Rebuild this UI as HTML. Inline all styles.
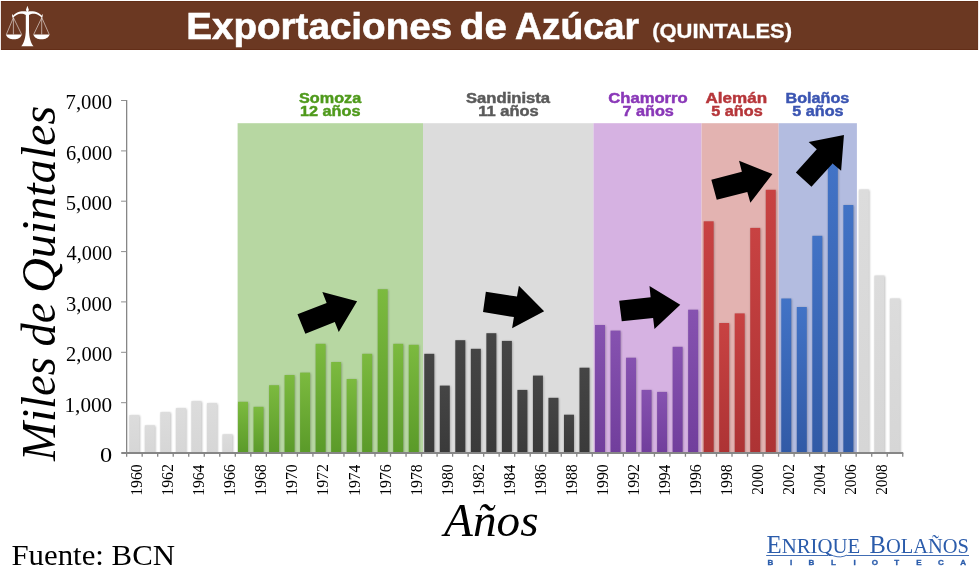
<!DOCTYPE html>
<html lang="es">
<head>
<meta charset="utf-8">
<title>Exportaciones de Azúcar (QUINTALES)</title>
<style>
html,body{margin:0;padding:0;background:#fff;}
body{width:980px;height:574px;overflow:hidden;position:relative;}
svg{position:absolute;left:0;top:0;display:block;}
.sans{font-family:"Liberation Sans","DejaVu Sans",sans-serif;font-weight:bold;}
.serif{font-family:"Liberation Serif","DejaVu Serif",serif;}
</style>
</head>
<body>
<svg width="980" height="574" viewBox="0 0 980 574">
<defs>
<linearGradient id="g-gr" x1="0" y1="0" x2="0" y2="1"><stop offset="0" stop-color="#7cba3f"/><stop offset="1" stop-color="#5a9a29"/></linearGradient>
<linearGradient id="g-dk" x1="0" y1="0" x2="0" y2="1"><stop offset="0" stop-color="#454545"/><stop offset="1" stop-color="#3a3a3a"/></linearGradient>
<linearGradient id="g-pu" x1="0" y1="0" x2="0" y2="1"><stop offset="0" stop-color="#8652b0"/><stop offset="1" stop-color="#713e9c"/></linearGradient>
<linearGradient id="g-rd" x1="0" y1="0" x2="0" y2="1"><stop offset="0" stop-color="#c84242"/><stop offset="1" stop-color="#ad3334"/></linearGradient>
<linearGradient id="g-bl" x1="0" y1="0" x2="0" y2="1"><stop offset="0" stop-color="#4273c6"/><stop offset="1" stop-color="#315aa6"/></linearGradient>
<linearGradient id="g-lg" x1="0" y1="0" x2="0" y2="1"><stop offset="0" stop-color="#dcdcdc"/><stop offset="1" stop-color="#d6d6d6"/></linearGradient>
<clipPath id="plot"><rect x="120" y="90" width="800" height="362.2"/></clipPath>
<filter id="sh" x="-30%" y="-5%" width="160%" height="110%"><feGaussianBlur stdDeviation="1.1"/></filter>
</defs>

<rect x="1.4" y="1.5" width="976.2" height="48" fill="#6b3822" stroke="#632e18" stroke-width="1"/>
<g fill="#fff" stroke="none">
<path d="M27.4 5.8 L28.9 9.9 L28 11.5 C31 11 35 11.2 38 12.8 C39.8 13.8 41 14.9 41.6 15.8 L42.3 13.8 C42.9 15.5 42.8 17 42 18 C40.5 16.3 38.5 14.8 36 14 C33.5 13.4 31 13.6 29 15 L29 30 C29.1 38 30.8 42.8 33.5 46.3 L21.3 46.3 C24 42.8 25.7 38 25.8 30 L25.8 15 C23.8 13.6 21.3 13.4 18.8 14 C16.3 14.8 14.3 16.3 12.8 18 C12 17 11.9 15.5 12.5 13.8 L13.2 15.8 C13.8 14.9 15 13.8 16.8 12.8 C19.8 11.2 23.8 11 26.8 11.5 L25.9 9.9 Z"/>
<path d="M5.9 34.4 L21.9 34.4 C21 37.6 17.9 39.2 13.9 39.2 C9.9 39.2 6.8 37.6 5.9 34.4 Z"/>
<path d="M33.3 34.4 L49.6 34.4 C48.7 37.6 45.5 39.2 41.45 39.2 C37.4 39.2 34.2 37.6 33.3 34.4 Z"/>
</g>
<g stroke="#fff" stroke-width="0.55" fill="none">
<path d="M13.4 17.6 L6.4 34.4 M13.4 17.6 L21.6 34.4 M13.4 17.6 L13.4 34.4"/>
<path d="M41.8 17.6 L33.7 34.4 M41.8 17.6 L49.2 34.4 M41.7 17.6 L41.7 34.4"/>
</g>

<text class="sans" x="186.21" y="38.6" font-size="37.4" fill="#fff" textLength="265.98" lengthAdjust="spacingAndGlyphs" stroke="#fff" stroke-width="0.6">Exportaciones</text>
<text class="sans" x="459.79" y="38.6" font-size="37.4" fill="#fff" textLength="47.08" lengthAdjust="spacingAndGlyphs" stroke="#fff" stroke-width="0.6">de</text>
<text class="sans" x="514.88" y="38.6" font-size="37.4" fill="#fff" textLength="124.18" lengthAdjust="spacingAndGlyphs" stroke="#fff" stroke-width="0.6">Azúcar</text>
<text class="sans" x="652.17" y="38.1" font-size="21.1" fill="#fff" textLength="139.84" lengthAdjust="spacingAndGlyphs" stroke="#fff" stroke-width="0.3">(QUINTALES)</text>
<rect x="237.6" y="123.2" width="185.4" height="329.8" fill="#b7d7a2"/>
<rect x="423.0" y="123.2" width="170.5" height="329.8" fill="#dcdcdc"/>
<rect x="593.5" y="123.2" width="108.1" height="329.8" fill="#d6b2e2"/>
<rect x="701.6" y="123.2" width="77.1" height="329.8" fill="#e3b3b1"/>
<rect x="778.7" y="123.2" width="78.2" height="329.8" fill="#b3bce0"/>
<g clip-path="url(#plot)"><g filter="url(#sh)" opacity="0.28" fill="#000" transform="translate(0.6 0.6)">
<rect x="129.35" y="415.1" width="10.0" height="41.9"/>
<rect x="144.87" y="425.3" width="10.0" height="31.7"/>
<rect x="160.39" y="412.1" width="10.0" height="44.9"/>
<rect x="175.92" y="408.1" width="10.0" height="48.9"/>
<rect x="191.44" y="401.1" width="10.0" height="55.9"/>
<rect x="206.96" y="403.1" width="10.0" height="53.9"/>
<rect x="222.48" y="434.3" width="10.0" height="22.7"/>
<rect x="238.00" y="401.8" width="10.0" height="55.2"/>
<rect x="253.53" y="406.8" width="10.0" height="50.2"/>
<rect x="269.05" y="385.2" width="10.0" height="71.8"/>
<rect x="284.57" y="375.0" width="10.0" height="82.0"/>
<rect x="300.09" y="372.6" width="10.0" height="84.4"/>
<rect x="315.61" y="343.8" width="10.0" height="113.2"/>
<rect x="331.14" y="362.0" width="10.0" height="95.0"/>
<rect x="346.66" y="379.0" width="10.0" height="78.0"/>
<rect x="362.18" y="353.8" width="10.0" height="103.2"/>
<rect x="377.70" y="289.2" width="10.0" height="167.8"/>
<rect x="393.22" y="343.8" width="10.0" height="113.2"/>
<rect x="408.75" y="344.8" width="10.0" height="112.2"/>
<rect x="424.27" y="353.8" width="10.0" height="103.2"/>
<rect x="439.79" y="385.6" width="10.0" height="71.4"/>
<rect x="455.31" y="340.2" width="10.0" height="116.8"/>
<rect x="470.83" y="348.8" width="10.0" height="108.2"/>
<rect x="486.36" y="333.2" width="10.0" height="123.8"/>
<rect x="501.88" y="340.9" width="10.0" height="116.1"/>
<rect x="517.40" y="389.9" width="10.0" height="67.1"/>
<rect x="532.92" y="375.6" width="10.0" height="81.4"/>
<rect x="548.44" y="397.8" width="10.0" height="59.2"/>
<rect x="563.97" y="414.7" width="10.0" height="42.3"/>
<rect x="579.49" y="367.7" width="10.0" height="89.3"/>
<rect x="595.01" y="325.0" width="10.0" height="132.0"/>
<rect x="610.53" y="330.6" width="10.0" height="126.4"/>
<rect x="626.05" y="357.7" width="10.0" height="99.3"/>
<rect x="641.58" y="389.9" width="10.0" height="67.1"/>
<rect x="657.10" y="391.9" width="10.0" height="65.1"/>
<rect x="672.62" y="346.8" width="10.0" height="110.2"/>
<rect x="688.14" y="309.7" width="10.0" height="147.3"/>
<rect x="703.66" y="221.3" width="10.0" height="235.7"/>
<rect x="719.19" y="323.0" width="10.0" height="134.0"/>
<rect x="734.71" y="313.4" width="10.0" height="143.6"/>
<rect x="750.23" y="227.9" width="10.0" height="229.1"/>
<rect x="765.75" y="189.8" width="10.0" height="267.2"/>
<rect x="781.27" y="298.5" width="10.0" height="158.5"/>
<rect x="796.80" y="307.0" width="10.0" height="150.0"/>
<rect x="812.32" y="235.8" width="10.0" height="221.2"/>
<rect x="827.84" y="164.0" width="10.0" height="293.0"/>
<rect x="843.36" y="205.0" width="10.0" height="252.0"/>
<rect x="858.88" y="189.5" width="10.0" height="267.5"/>
<rect x="874.41" y="275.6" width="10.0" height="181.4"/>
<rect x="889.93" y="298.5" width="10.0" height="158.5"/>
</g></g>
<rect x="129.35" y="415.1" width="10.0" height="37.9" fill="url(#g-lg)"/>
<rect x="144.87" y="425.3" width="10.0" height="27.7" fill="url(#g-lg)"/>
<rect x="160.39" y="412.1" width="10.0" height="40.9" fill="url(#g-lg)"/>
<rect x="175.92" y="408.1" width="10.0" height="44.9" fill="url(#g-lg)"/>
<rect x="191.44" y="401.1" width="10.0" height="51.9" fill="url(#g-lg)"/>
<rect x="206.96" y="403.1" width="10.0" height="49.9" fill="url(#g-lg)"/>
<rect x="222.48" y="434.3" width="10.0" height="18.7" fill="url(#g-lg)"/>
<rect x="238.00" y="401.8" width="10.0" height="51.2" fill="url(#g-gr)"/>
<rect x="253.53" y="406.8" width="10.0" height="46.2" fill="url(#g-gr)"/>
<rect x="269.05" y="385.2" width="10.0" height="67.8" fill="url(#g-gr)"/>
<rect x="284.57" y="375.0" width="10.0" height="78.0" fill="url(#g-gr)"/>
<rect x="300.09" y="372.6" width="10.0" height="80.4" fill="url(#g-gr)"/>
<rect x="315.61" y="343.8" width="10.0" height="109.2" fill="url(#g-gr)"/>
<rect x="331.14" y="362.0" width="10.0" height="91.0" fill="url(#g-gr)"/>
<rect x="346.66" y="379.0" width="10.0" height="74.0" fill="url(#g-gr)"/>
<rect x="362.18" y="353.8" width="10.0" height="99.2" fill="url(#g-gr)"/>
<rect x="377.70" y="289.2" width="10.0" height="163.8" fill="url(#g-gr)"/>
<rect x="393.22" y="343.8" width="10.0" height="109.2" fill="url(#g-gr)"/>
<rect x="408.75" y="344.8" width="10.0" height="108.2" fill="url(#g-gr)"/>
<rect x="424.27" y="353.8" width="10.0" height="99.2" fill="url(#g-dk)"/>
<rect x="439.79" y="385.6" width="10.0" height="67.4" fill="url(#g-dk)"/>
<rect x="455.31" y="340.2" width="10.0" height="112.8" fill="url(#g-dk)"/>
<rect x="470.83" y="348.8" width="10.0" height="104.2" fill="url(#g-dk)"/>
<rect x="486.36" y="333.2" width="10.0" height="119.8" fill="url(#g-dk)"/>
<rect x="501.88" y="340.9" width="10.0" height="112.1" fill="url(#g-dk)"/>
<rect x="517.40" y="389.9" width="10.0" height="63.1" fill="url(#g-dk)"/>
<rect x="532.92" y="375.6" width="10.0" height="77.4" fill="url(#g-dk)"/>
<rect x="548.44" y="397.8" width="10.0" height="55.2" fill="url(#g-dk)"/>
<rect x="563.97" y="414.7" width="10.0" height="38.3" fill="url(#g-dk)"/>
<rect x="579.49" y="367.7" width="10.0" height="85.3" fill="url(#g-dk)"/>
<rect x="595.01" y="325.0" width="10.0" height="128.0" fill="url(#g-pu)"/>
<rect x="610.53" y="330.6" width="10.0" height="122.4" fill="url(#g-pu)"/>
<rect x="626.05" y="357.7" width="10.0" height="95.3" fill="url(#g-pu)"/>
<rect x="641.58" y="389.9" width="10.0" height="63.1" fill="url(#g-pu)"/>
<rect x="657.10" y="391.9" width="10.0" height="61.1" fill="url(#g-pu)"/>
<rect x="672.62" y="346.8" width="10.0" height="106.2" fill="url(#g-pu)"/>
<rect x="688.14" y="309.7" width="10.0" height="143.3" fill="url(#g-pu)"/>
<rect x="703.66" y="221.3" width="10.0" height="231.7" fill="url(#g-rd)"/>
<rect x="719.19" y="323.0" width="10.0" height="130.0" fill="url(#g-rd)"/>
<rect x="734.71" y="313.4" width="10.0" height="139.6" fill="url(#g-rd)"/>
<rect x="750.23" y="227.9" width="10.0" height="225.1" fill="url(#g-rd)"/>
<rect x="765.75" y="189.8" width="10.0" height="263.2" fill="url(#g-rd)"/>
<rect x="781.27" y="298.5" width="10.0" height="154.5" fill="url(#g-bl)"/>
<rect x="796.80" y="307.0" width="10.0" height="146.0" fill="url(#g-bl)"/>
<rect x="812.32" y="235.8" width="10.0" height="217.2" fill="url(#g-bl)"/>
<rect x="827.84" y="164.0" width="10.0" height="289.0" fill="url(#g-bl)"/>
<rect x="843.36" y="205.0" width="10.0" height="248.0" fill="url(#g-bl)"/>
<rect x="858.88" y="189.5" width="10.0" height="263.5" fill="url(#g-lg)"/>
<rect x="874.41" y="275.6" width="10.0" height="177.4" fill="url(#g-lg)"/>
<rect x="889.93" y="298.5" width="10.0" height="154.5" fill="url(#g-lg)"/>
<g stroke="#868686" stroke-width="1.3" fill="none">
<path d="M126.65 100.0 L126.65 453.0"/>
<path d="M121.25 453.0 L903.25 453.0" stroke-width="1.9"/>
<path d="M121.05000000000001 100.5 L126.65 100.5 M121.05000000000001 150.9 L126.65 150.9 M121.05000000000001 201.2 L126.65 201.2 M121.05000000000001 251.6 L126.65 251.6 M121.05000000000001 301.9 L126.65 301.9 M121.05000000000001 352.3 L126.65 352.3 M121.05000000000001 402.7 L126.65 402.7" stroke-width="1" stroke="#8e8e8e"/>
<path d="M126.65 453.0 L126.65 456.7 M142.17 453.0 L142.17 456.7 M157.69 453.0 L157.69 456.7 M173.22 453.0 L173.22 456.7 M188.74 453.0 L188.74 456.7 M204.26 453.0 L204.26 456.7 M219.78 453.0 L219.78 456.7 M235.30 453.0 L235.30 456.7 M250.83 453.0 L250.83 456.7 M266.35 453.0 L266.35 456.7 M281.87 453.0 L281.87 456.7 M297.39 453.0 L297.39 456.7 M312.91 453.0 L312.91 456.7 M328.44 453.0 L328.44 456.7 M343.96 453.0 L343.96 456.7 M359.48 453.0 L359.48 456.7 M375.00 453.0 L375.00 456.7 M390.52 453.0 L390.52 456.7 M406.05 453.0 L406.05 456.7 M421.57 453.0 L421.57 456.7 M437.09 453.0 L437.09 456.7 M452.61 453.0 L452.61 456.7 M468.13 453.0 L468.13 456.7 M483.66 453.0 L483.66 456.7 M499.18 453.0 L499.18 456.7 M514.70 453.0 L514.70 456.7 M530.22 453.0 L530.22 456.7 M545.74 453.0 L545.74 456.7 M561.27 453.0 L561.27 456.7 M576.79 453.0 L576.79 456.7 M592.31 453.0 L592.31 456.7 M607.83 453.0 L607.83 456.7 M623.35 453.0 L623.35 456.7 M638.88 453.0 L638.88 456.7 M654.40 453.0 L654.40 456.7 M669.92 453.0 L669.92 456.7 M685.44 453.0 L685.44 456.7 M700.96 453.0 L700.96 456.7 M716.49 453.0 L716.49 456.7 M732.01 453.0 L732.01 456.7 M747.53 453.0 L747.53 456.7 M763.05 453.0 L763.05 456.7 M778.57 453.0 L778.57 456.7 M794.10 453.0 L794.10 456.7 M809.62 453.0 L809.62 456.7 M825.14 453.0 L825.14 456.7 M840.66 453.0 L840.66 456.7 M856.18 453.0 L856.18 456.7 M871.71 453.0 L871.71 456.7 M887.23 453.0 L887.23 456.7 M902.75 453.0 L902.75 456.7"/>
</g>
<text class="serif" x="65.62" y="109.3" font-size="21" fill="#000" textLength="46.52" lengthAdjust="spacingAndGlyphs">7,000</text>
<text class="serif" x="66.02" y="159.7" font-size="21" fill="#000" textLength="46.11" lengthAdjust="spacingAndGlyphs">6,000</text>
<text class="serif" x="65.76" y="210.0" font-size="21" fill="#000" textLength="46.38" lengthAdjust="spacingAndGlyphs">5,000</text>
<text class="serif" x="66.60" y="260.4" font-size="21" fill="#000" textLength="45.52" lengthAdjust="spacingAndGlyphs">4,000</text>
<text class="serif" x="65.92" y="310.7" font-size="21" fill="#000" textLength="46.21" lengthAdjust="spacingAndGlyphs">3,000</text>
<text class="serif" x="66.02" y="361.1" font-size="21" fill="#000" textLength="46.11" lengthAdjust="spacingAndGlyphs">2,000</text>
<text class="serif" x="64.53" y="411.5" font-size="21" fill="#000" textLength="47.63" lengthAdjust="spacingAndGlyphs">1,000</text>
<text class="serif" x="100.14" y="461.8" font-size="21" fill="#000" textLength="12.16" lengthAdjust="spacingAndGlyphs">0</text>
<text class="serif" transform="translate(142.21 494.2) rotate(-90)" x="-1.58" y="0" font-size="17.5" fill="#000" textLength="31.52" lengthAdjust="spacingAndGlyphs">1960</text>
<text class="serif" transform="translate(173.26 494.2) rotate(-90)" x="-1.60" y="0" font-size="17.5" fill="#000" textLength="31.81" lengthAdjust="spacingAndGlyphs">1962</text>
<text class="serif" transform="translate(204.30 494.2) rotate(-90)" x="-1.56" y="0" font-size="17.5" fill="#000" textLength="31.11" lengthAdjust="spacingAndGlyphs">1964</text>
<text class="serif" transform="translate(235.34 494.2) rotate(-90)" x="-1.58" y="0" font-size="17.5" fill="#000" textLength="31.39" lengthAdjust="spacingAndGlyphs">1966</text>
<text class="serif" transform="translate(266.39 494.2) rotate(-90)" x="-1.58" y="0" font-size="17.5" fill="#000" textLength="31.53" lengthAdjust="spacingAndGlyphs">1968</text>
<text class="serif" transform="translate(297.43 494.2) rotate(-90)" x="-1.58" y="0" font-size="17.5" fill="#000" textLength="31.52" lengthAdjust="spacingAndGlyphs">1970</text>
<text class="serif" transform="translate(328.48 494.2) rotate(-90)" x="-1.60" y="0" font-size="17.5" fill="#000" textLength="31.81" lengthAdjust="spacingAndGlyphs">1972</text>
<text class="serif" transform="translate(359.52 494.2) rotate(-90)" x="-1.56" y="0" font-size="17.5" fill="#000" textLength="31.11" lengthAdjust="spacingAndGlyphs">1974</text>
<text class="serif" transform="translate(390.56 494.2) rotate(-90)" x="-1.58" y="0" font-size="17.5" fill="#000" textLength="31.39" lengthAdjust="spacingAndGlyphs">1976</text>
<text class="serif" transform="translate(421.61 494.2) rotate(-90)" x="-1.58" y="0" font-size="17.5" fill="#000" textLength="31.53" lengthAdjust="spacingAndGlyphs">1978</text>
<text class="serif" transform="translate(452.65 494.2) rotate(-90)" x="-1.58" y="0" font-size="17.5" fill="#000" textLength="31.52" lengthAdjust="spacingAndGlyphs">1980</text>
<text class="serif" transform="translate(483.70 494.2) rotate(-90)" x="-1.60" y="0" font-size="17.5" fill="#000" textLength="31.81" lengthAdjust="spacingAndGlyphs">1982</text>
<text class="serif" transform="translate(514.74 494.2) rotate(-90)" x="-1.56" y="0" font-size="17.5" fill="#000" textLength="31.11" lengthAdjust="spacingAndGlyphs">1984</text>
<text class="serif" transform="translate(545.78 494.2) rotate(-90)" x="-1.58" y="0" font-size="17.5" fill="#000" textLength="31.39" lengthAdjust="spacingAndGlyphs">1986</text>
<text class="serif" transform="translate(576.83 494.2) rotate(-90)" x="-1.58" y="0" font-size="17.5" fill="#000" textLength="31.53" lengthAdjust="spacingAndGlyphs">1988</text>
<text class="serif" transform="translate(607.87 494.2) rotate(-90)" x="-1.58" y="0" font-size="17.5" fill="#000" textLength="31.52" lengthAdjust="spacingAndGlyphs">1990</text>
<text class="serif" transform="translate(638.91 494.2) rotate(-90)" x="-1.60" y="0" font-size="17.5" fill="#000" textLength="31.81" lengthAdjust="spacingAndGlyphs">1992</text>
<text class="serif" transform="translate(669.96 494.2) rotate(-90)" x="-1.56" y="0" font-size="17.5" fill="#000" textLength="31.11" lengthAdjust="spacingAndGlyphs">1994</text>
<text class="serif" transform="translate(701.00 494.2) rotate(-90)" x="-1.58" y="0" font-size="17.5" fill="#000" textLength="31.39" lengthAdjust="spacingAndGlyphs">1996</text>
<text class="serif" transform="translate(732.05 494.2) rotate(-90)" x="-1.58" y="0" font-size="17.5" fill="#000" textLength="31.53" lengthAdjust="spacingAndGlyphs">1998</text>
<text class="serif" transform="translate(763.09 494.2) rotate(-90)" x="-0.67" y="0" font-size="17.5" fill="#000" textLength="30.59" lengthAdjust="spacingAndGlyphs">2000</text>
<text class="serif" transform="translate(794.13 494.2) rotate(-90)" x="-0.67" y="0" font-size="17.5" fill="#000" textLength="30.86" lengthAdjust="spacingAndGlyphs">2002</text>
<text class="serif" transform="translate(825.18 494.2) rotate(-90)" x="-0.66" y="0" font-size="17.5" fill="#000" textLength="30.20" lengthAdjust="spacingAndGlyphs">2004</text>
<text class="serif" transform="translate(856.22 494.2) rotate(-90)" x="-0.67" y="0" font-size="17.5" fill="#000" textLength="30.47" lengthAdjust="spacingAndGlyphs">2006</text>
<text class="serif" transform="translate(887.27 494.2) rotate(-90)" x="-0.67" y="0" font-size="17.5" fill="#000" textLength="30.60" lengthAdjust="spacingAndGlyphs">2008</text>
<text class="serif" transform="translate(54.6 461.4) rotate(-90)" x="0.45" y="0" font-size="49" font-style="italic" fill="#000" textLength="103.95" lengthAdjust="spacingAndGlyphs">Miles</text>
<text class="serif" transform="translate(54.6 461.4) rotate(-90)" x="114.85" y="0" font-size="49" font-style="italic" fill="#000" textLength="43.84" lengthAdjust="spacingAndGlyphs">de</text>
<text class="serif" transform="translate(54.6 461.4) rotate(-90)" x="168.31" y="0" font-size="49" font-style="italic" fill="#000" textLength="187.27" lengthAdjust="spacingAndGlyphs">Quintales</text>
<text class="serif" x="444.09" y="535.7" font-size="46.8" font-style="italic" fill="#000" textLength="94.46" lengthAdjust="spacingAndGlyphs">Años</text>
<text class="serif" x="11.49" y="564.5" font-size="28.8" fill="#000" textLength="163.51" lengthAdjust="spacingAndGlyphs">Fuente: BCN</text>
<text class="sans" x="299.05" y="102.8" font-size="14.5" fill="#4f9a1c" textLength="62.12" lengthAdjust="spacingAndGlyphs" stroke="#4f9a1c" stroke-width="0.45">Somoza</text>
<text class="sans" x="300.08" y="115.6" font-size="14.5" fill="#4f9a1c" textLength="60.36" lengthAdjust="spacingAndGlyphs" stroke="#4f9a1c" stroke-width="0.45">12 años</text>
<text class="sans" x="466.03" y="102.8" font-size="14.5" fill="#5a5a5a" textLength="84.10" lengthAdjust="spacingAndGlyphs" stroke="#5a5a5a" stroke-width="0.45">Sandinista</text>
<text class="sans" x="478.26" y="115.6" font-size="14.5" fill="#5a5a5a" textLength="60.45" lengthAdjust="spacingAndGlyphs" stroke="#5a5a5a" stroke-width="0.45">11 años</text>
<text class="sans" x="608.24" y="102.8" font-size="14.5" fill="#8a38b8" textLength="79.44" lengthAdjust="spacingAndGlyphs" stroke="#8a38b8" stroke-width="0.45">Chamorro</text>
<text class="sans" x="622.50" y="115.6" font-size="14.5" fill="#8a38b8" textLength="51.35" lengthAdjust="spacingAndGlyphs" stroke="#8a38b8" stroke-width="0.45">7 años</text>
<text class="sans" x="705.55" y="102.8" font-size="14.5" fill="#b6363a" textLength="61.66" lengthAdjust="spacingAndGlyphs" stroke="#b6363a" stroke-width="0.45">Alemán</text>
<text class="sans" x="711.36" y="115.6" font-size="14.5" fill="#b6363a" textLength="51.29" lengthAdjust="spacingAndGlyphs" stroke="#b6363a" stroke-width="0.45">5 años</text>
<text class="sans" x="785.59" y="102.8" font-size="14.5" fill="#3b55b2" textLength="63.72" lengthAdjust="spacingAndGlyphs" stroke="#3b55b2" stroke-width="0.45">Bolaños</text>
<text class="sans" x="792.36" y="115.6" font-size="14.5" fill="#3b55b2" textLength="51.19" lengthAdjust="spacingAndGlyphs" stroke="#3b55b2" stroke-width="0.45">5 años</text>
<polygon fill="#000" points="297.45,314.18 305.37,333.76 334.80,322.10 338.76,332.07 357.10,301.17 322.35,292.11 326.65,302.98"/>
<polygon fill="#000" points="485.85,291.75 483.02,312.12 513.92,317.10 512.10,328.20 544.14,311.22 518.90,285.75 516.97,296.51"/>
<polygon fill="#000" points="619.15,300.81 621.75,321.18 653.10,318.01 654.46,328.99 680.27,304.65 649.48,286.09 650.61,297.18"/>
<polygon fill="#000" points="711.32,179.65 716.75,199.80 747.31,191.88 750.37,202.63 772.44,174.11 739.05,160.75 741.88,171.73"/>
<polygon fill="#000" points="795.85,172.54 811.47,186.69 832.63,163.48 841.12,170.84 843.95,134.96 808.64,141.98 816.79,149.34"/>
<text class="serif" x="766.51" y="552.5" font-size="24.5" fill="#2b5cab" textLength="93.78" lengthAdjust="spacingAndGlyphs">E<tspan font-size="20.5">NRIQUE</tspan></text>
<text class="serif" x="869.62" y="552.5" font-size="24.5" fill="#2b5cab" textLength="99.37" lengthAdjust="spacingAndGlyphs">B<tspan font-size="20.5">OLAÑOS</tspan></text>
<path d="M766.2 555.5 L828 555.5 M846.5 555.5 L969 555.5" stroke="#2b5cab" stroke-width="0.9" fill="none"/>
<path d="M826 552.6 C831 555.2 836 557.2 840.5 556.9 C843 556.7 845 556 846.8 555.1" stroke="#2b5cab" stroke-width="0.9" fill="none"/>
<text class="sans" y="565.2" font-size="8" fill="#2b5cab" stroke="#2b5cab" stroke-width="0.35" text-anchor="middle"><tspan x="770.3">B</tspan><tspan x="791.2">I</tspan><tspan x="811.5">B</tspan><tspan x="833.5">L</tspan><tspan x="854.6">I</tspan><tspan x="874.8">O</tspan><tspan x="896.6">T</tspan><tspan x="919.0">E</tspan><tspan x="940.8">C</tspan><tspan x="963.2">A</tspan></text>
</svg>
</body>
</html>
